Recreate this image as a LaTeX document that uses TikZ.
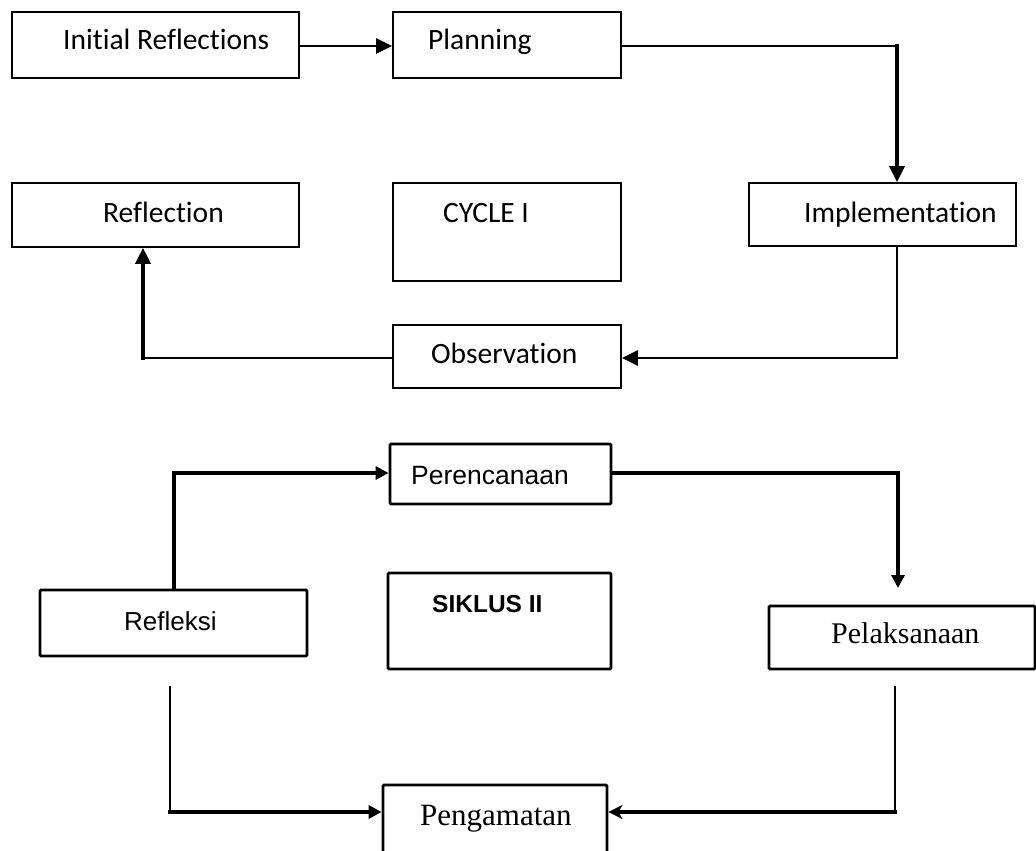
\documentclass[tikz,border=0pt]{standalone}
\usepackage{fontspec}
\setmainfont{Carlito}[Ligatures=NoCommon]
\newfontfamily\lsans{Liberation Sans}
\newfontfamily\lserif{Liberation Serif}
\usetikzlibrary{arrows.meta}
\tikzset{
  boxa/.style={draw, line width=1.7pt, inner sep=0pt},
  boxb/.style={draw, line width=2.8pt, inner sep=0pt, rounded corners=1.2pt},
  txt/.style={anchor=base west, inner sep=0pt, font=\fontsize{29.5}{35}\selectfont},
  thin/.style={line width=1.6pt, line cap=rect},
  thick2/.style={line width=2.7pt, line cap=rect},
  thick3/.style={line width=3.3pt, line cap=rect},
  thickb/.style={line width=3.2pt, line cap=rect},
  tri/.style={-{Triangle[length=16pt,width=15pt]}},
  trib/.style={-{Triangle[length=13pt,width=13pt]}},
  stl/.style={-{Stealth[length=14pt,width=14pt,inset=4pt]}},
}
\begin{document}
\begin{tikzpicture}[x=1pt,y=-1pt]
\path[use as bounding box, fill=white] (0,0) rectangle (1036,851);

% ---------- CYCLE I ----------
\node[boxa, minimum width=287, minimum height=66] (ir) at (155.5,45) {};
\node[txt] (irt) at (63,50) {Initial Reflections};
\node[boxa, minimum width=228, minimum height=66] (plan) at (507,45) {};
\node[txt] (plant) at (428,50) {Planning};
\node[boxa, minimum width=287, minimum height=64] (refl) at (155.5,215) {};
\node[txt] (reflt) at (103,222) {Reflection};
\node[boxa, minimum width=228, minimum height=98] (cyc) at (507,232) {};
\node[txt] (cyct) at (443,222) {CYCLE I};
\node[boxa, minimum width=267, minimum height=63] (impl) at (882.5,214.5) {};
\node[txt] (implt) at (804,222) {Implementation};
\node[boxa, minimum width=228, minimum height=63] (obs) at (507,356.5) {};
\node[txt] (obst) at (431,363) {Observation};

\coordinate (c1) at (897,46);
\coordinate (c2) at (897,358);
\coordinate (c3) at (143,358);

\draw[thick2, tri] (ir.east |- c1) -- (plan.west |- c1);
\draw[thin] (plan.east |- c1) -- (c1);
\draw[thick3, tri] (c1) -- (c1 |- impl.north);
\draw[thin] (c1 |- impl.south) -- (c2);
\draw[thick2, tri] (c2) -- (c2 -| obs.east);
\draw[thick2] (c3 -| obs.west) -- (c3);
\draw[thick3, tri] (c3) -- (c3 |- refl.south);

% ---------- SIKLUS II ----------
\node[boxb, minimum width=221, minimum height=60] (per) at (500.5,474) {};
\node[txt, font=\lsans\fontsize{26.5}{32}\selectfont] (pert) at (411,484) {Perencanaan};
\node[boxb, minimum width=267, minimum height=66] (ref) at (173.5,623) {};
\node[txt, font=\lsans\fontsize{26}{32}\selectfont] (reft) at (124,630) {Refleksi};
\node[boxb, minimum width=223, minimum height=96] (sik) at (499.5,621) {};
\node[txt, font=\lsans\bfseries\fontsize{24.5}{30}\selectfont] (sikt) at (432,612) {SIKLUS II};
\node[boxb, minimum width=266, minimum height=63] (pel) at (902,637.5) {};
\node[txt, font=\lserif\fontsize{30}{36}\selectfont] (pelt) at (831,643) {Pelaksanaan};
\node[boxb, minimum width=224, minimum height=68] (pen) at (495,819) {};
\node[txt, font=\lserif\fontsize{31}{37}\selectfont] (pent) at (420,825) {Pengamatan};

\coordinate (c4) at (174,473);
\coordinate (c5) at (898,473);
\coordinate (c6) at (898,588);
\coordinate (c7) at (895,687);
\coordinate (c8) at (895,812);
\coordinate (c9) at (170,687);
\coordinate (c10) at (170,812);

\draw[thickb, trib] (c4 |- ref.north) -- (c4) -- (c4 -| per.west);
\draw[thickb, trib] (c5 -| per.east) -- (c5) -- (c6);
\draw[thin] (c7) -- (c8);
\draw[thickb, stl] (c8) -- (c8 -| pen.east);
\draw[thin] (c9) -- (c10);
\draw[thickb, trib] (c10) -- (c10 -| pen.west);
\end{tikzpicture}
\end{document}
